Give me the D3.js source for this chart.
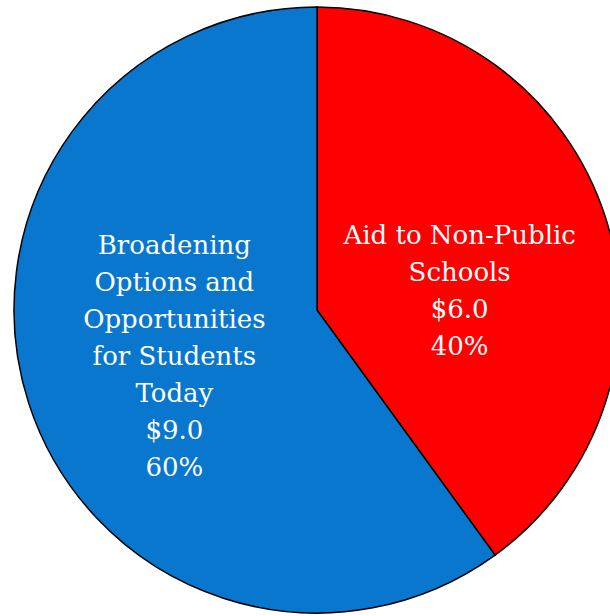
<!DOCTYPE html>
<html>
<head>
<meta charset="utf-8">
<script src="https://cdn.jsdelivr.net/npm/d3@7"></script>
<style>
  html, body { margin: 0; padding: 0; background: #fff; overflow: hidden; }
  svg { display: block; }
</style>
</head>
<body>
<div id="chart"></div>
<script>
// spending split
const categories = ["Aid to Non-Public Schools", "Broadening Options and Opportunities for Students Today"];
const labelLines = [
    ["Aid to Non-Public", "Schools"],
    ["Broadening", "Options and", "Opportunities", "for Students", "Today"]
];
const amounts = [6.0, 9.0];
const percents = ["40%", "60%"];
const colors = ["#ff0000", "#0877cd"];

const width = 610, height = 616;
const cx = 317, cy = 310, radius = 303;

const svg = d3.select("#chart")
    .append("svg")
    .attr("width", width)
    .attr("height", height);

const g = svg.append("g")
    .attr("transform", `translate(${cx},${cy})`);

const pie = d3.pie().sort(null).value(d => d);
const arcs = pie(amounts);

const arc = d3.arc().innerRadius(0).outerRadius(radius);
const labelArc = d3.arc().innerRadius(150).outerRadius(150);

g.selectAll("path")
    .data(arcs)
    .enter()
    .append("path")
    .attr("d", arc)
    .style("fill", (d, i) => colors[i])
    .style("stroke", "#000")
    .style("stroke-width", 1.5);

const lineHeight = 37;

arcs.forEach((d, i) => {
    const [x, y] = labelArc.centroid(d);
    const lines = labelLines[i].concat([`$${amounts[i].toFixed(1)}`, percents[i]]);
    // the small slice's label sits a bit lower than its centroid
    const nudge = i === 0 ? 27 : 0;
    const top = y + nudge - (lines.length - 1) / 2 * lineHeight + 9;

    // DejaVu Serif is the only serif face that resolves here
    const text = g.append("text")
        .attr("text-anchor", "middle")
        .attr("font-family", "DejaVu Serif")
        .attr("font-size", 26)
        .attr("fill", "#fff");

    lines.forEach((line, k) => {
        text.append("tspan")
            .attr("x", x)
            .attr("y", top + k * lineHeight)
            .text(line);
    });
});
</script>
</body>
</html>
